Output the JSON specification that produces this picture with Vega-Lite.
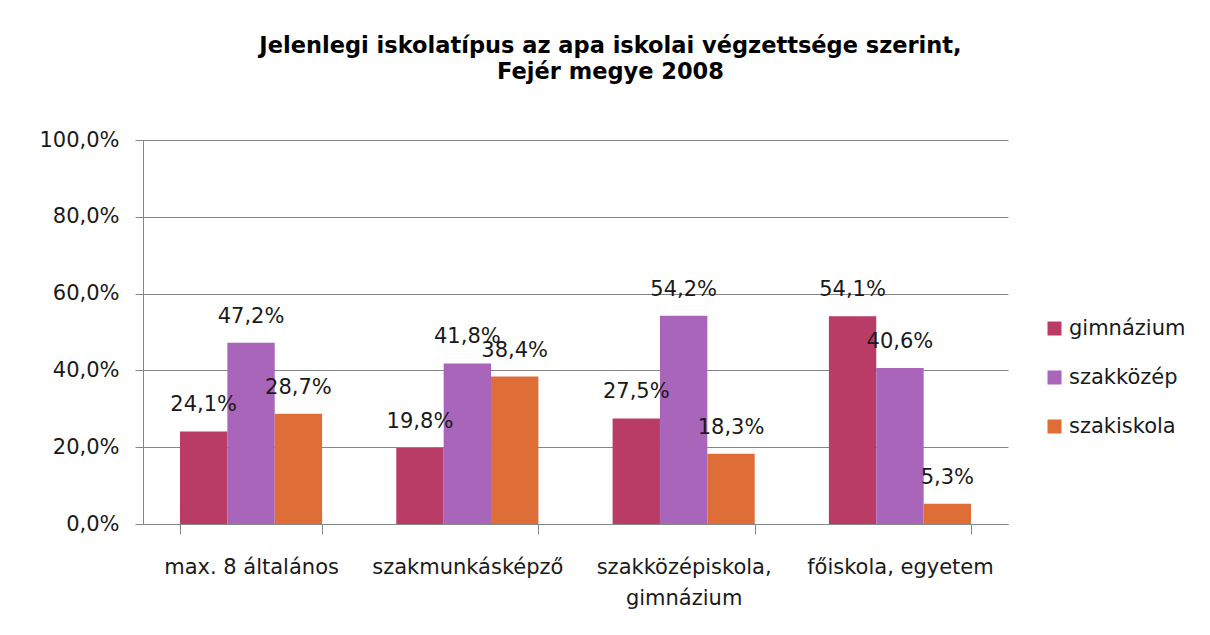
{
  "$schema": "https://vega.github.io/schema/vega-lite/v6.json",
  "width": 865,
  "height": 384,
  "autosize": {"type": "none"},
  "padding": {"left": 143, "top": 140, "right": 202, "bottom": 111},
  "background": "white",
  "title": {
    "text": ["Jelenlegi iskolatípus  az apa iskolai  végzettsége szerint,", "Fejér megye 2008"],
    "font": "DejaVu Sans",
    "fontWeight": "bold",
    "fontSize": 22.5,
    "color": "#000000",
    "lineHeight": 26,
    "anchor": "middle",
    "frame": "group",
    "dx": 35,
    "offset": 46
  },
  "data": {
    "values": [
      {"apa": "max. 8 általános", "tipus": "gimnázium", "ertek": 0.241},
      {"apa": "max. 8 általános", "tipus": "szakközép", "ertek": 0.472},
      {"apa": "max. 8 általános", "tipus": "szakiskola", "ertek": 0.287},
      {"apa": "szakmunkásképző", "tipus": "gimnázium", "ertek": 0.198},
      {"apa": "szakmunkásképző", "tipus": "szakközép", "ertek": 0.418},
      {"apa": "szakmunkásképző", "tipus": "szakiskola", "ertek": 0.384},
      {"apa": "szakközépiskola, gimnázium", "tipus": "gimnázium", "ertek": 0.275},
      {"apa": "szakközépiskola, gimnázium", "tipus": "szakközép", "ertek": 0.542},
      {"apa": "szakközépiskola, gimnázium", "tipus": "szakiskola", "ertek": 0.183},
      {"apa": "főiskola, egyetem", "tipus": "gimnázium", "ertek": 0.541},
      {"apa": "főiskola, egyetem", "tipus": "szakközép", "ertek": 0.406},
      {"apa": "főiskola, egyetem", "tipus": "szakiskola", "ertek": 0.053}
    ]
  },
  "encoding": {
    "x": {
      "field": "apa",
      "type": "nominal",
      "sort": null,
      "scale": {"paddingInner": 0.343, "paddingOuter": 0.171},
      "axis": {
        "title": null,
        "labelAngle": 0,
        "labelFont": "DejaVu Sans",
        "labelFontSize": 21,
        "labelColor": "#1a1a1a",
        "labelPadding": 22,
        "labelLineHeight": 31,
        "labelLimit": 0,
        "labelExpr": "datum.label == 'szakközépiskola, gimnázium' ? ['szakközépiskola,', 'gimnázium'] : datum.label",
        "tickBand": "extent",
        "tickSize": 10,
        "tickColor": "#868686",
        "domainColor": "#868686",
        "grid": false
      }
    },
    "xOffset": {"field": "tipus", "type": "nominal", "sort": ["gimnázium", "szakközép", "szakiskola"], "scale": {"paddingInner": 0, "paddingOuter": 0}},
    "y": {
      "field": "ertek",
      "type": "quantitative",
      "scale": {"domain": [0, 1], "nice": false},
      "axis": {
        "title": null,
        "values": [0, 0.2, 0.4, 0.6, 0.8, 1],
        "labelExpr": "replace(format(datum.value * 100, '.1f'), '.', ',') + '%'",
        "labelFont": "DejaVu Sans",
        "labelFontSize": 21,
        "labelColor": "#1a1a1a",
        "labelPadding": 16,
        "tickSize": 8,
        "tickColor": "#868686",
        "domainColor": "#868686",
        "gridColor": "#868686",
        "gridWidth": 1
      }
    }
  },
  "layer": [
    {
      "mark": {"type": "bar"},
      "encoding": {
        "color": {
          "field": "tipus",
          "type": "nominal",
          "sort": ["gimnázium", "szakközép", "szakiskola"],
          "scale": {"domain": ["gimnázium", "szakközép", "szakiskola"], "range": ["#B93C66", "#A965BA", "#DF6D37"]},
          "legend": {
            "title": null,
            "orient": "none",
            "legendX": 901,
            "legendY": 178,
            "symbolType": "square",
            "symbolSize": 196,
            "symbolStrokeWidth": 0,
            "labelFont": "DejaVu Sans",
            "labelFontSize": 21,
            "labelColor": "#1a1a1a",
            "labelOffset": 4,
            "rowPadding": 27
          }
        }
      }
    },
    {
      "mark": {"type": "text", "baseline": "alphabetic", "dy": -20, "font": "DejaVu Sans", "fontSize": 21, "color": "#1a1a1a"},
      "encoding": {
        "text": {"field": "ertek", "type": "quantitative", "format": ".1%"}
      }
    }
  ],
  "config": {
    "view": {"stroke": null},
    "locale": {"number": {"decimal": ",", "thousands": " ", "grouping": [3], "currency": ["", " Ft"], "percent": "%"}}
  }
}
